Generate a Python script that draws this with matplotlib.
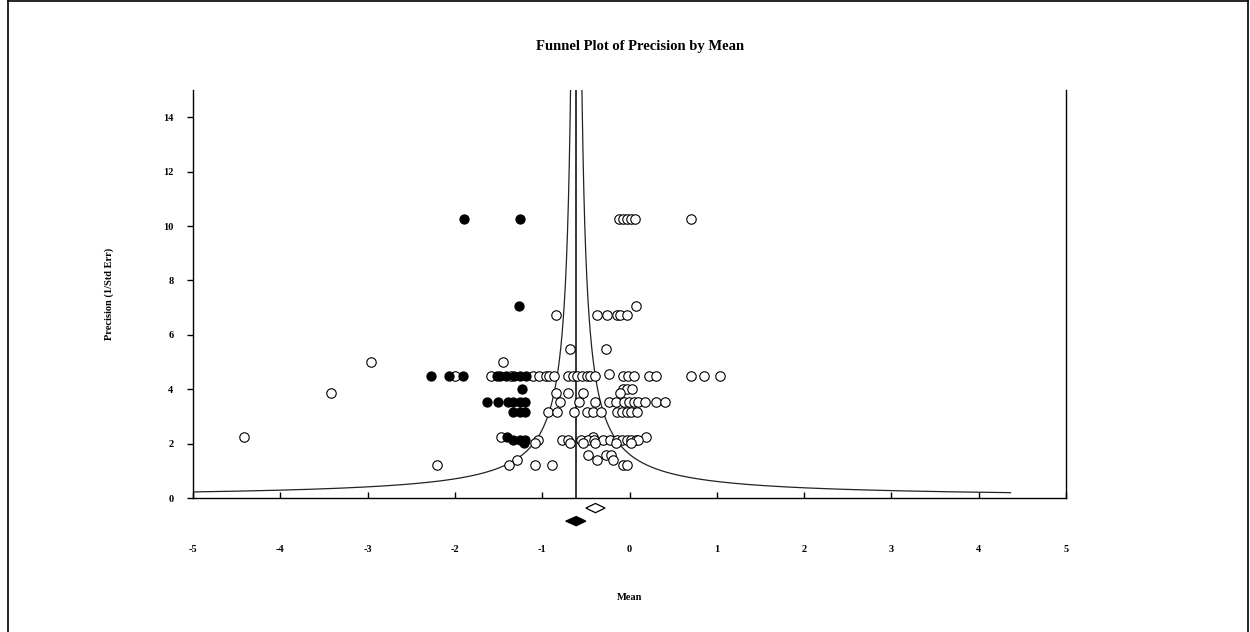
import numpy as np
import matplotlib
matplotlib.use('Agg')
import matplotlib.pyplot as plt
from matplotlib.patches import Polygon
from matplotlib.lines import Line2D

plt.rcParams['font.family'] = ['Liberation Serif', 'DejaVu Serif']
plt.rcParams['font.weight'] = 'bold'
plt.rcParams['axes.unicode_minus'] = False

#Data
#-----------------------------------------------------------
precision_levels = [10.25, 7.07, 6.72, 5.48, 5.0, 4.56, 4.47, 4.0, 3.87,
                    3.53, 3.17, 2.24, 2.13, 2.02, 1.58, 1.41, 1.22]

observed_means = [
    [-0.12, -0.08, -0.03, 0.02, 0.06, 0.70],
    [0.07],
    [-0.84, -0.37, -0.26, -0.14, -0.11, -0.03],
    [-0.68, -0.27],
    [-2.96, -1.45],
    [-0.24],
    [-2.00, -1.59, -1.36, -1.11, -1.04, -0.96, -0.92, -0.86, -0.70, -0.65, -0.60,
     -0.54, -0.49, -0.45, -0.40, -0.08, -0.02, 0.05, 0.22, 0.30, 0.70, 0.85, 1.04],
    [-0.08, -0.03, 0.03],
    [-3.42, -0.84, -0.70, -0.53, -0.11],
    [-0.80, -0.58, -0.39, -0.24, -0.16, -0.06, -0.01, 0.05, 0.10, 0.18, 0.30, 0.41],
    [-0.93, -0.83, -0.64, -0.49, -0.42, -0.33, -0.14, -0.09, -0.03, 0.02, 0.09],
    [-4.42, -1.47, -0.42, 0.19],
    [-1.05, -0.77, -0.70, -0.56, -0.48, -0.41, -0.30, -0.22, -0.14, -0.09, -0.03,
     0.02, 0.07, 0.10],
    [-1.08, -0.68, -0.53, -0.39, -0.16, 0.02],
    [-0.48, -0.27, -0.21],
    [-1.29, -0.37, -0.19],
    [-2.20, -1.38, -1.08, -0.89, -0.08, -0.03],
]

imputed_means = [
    [-1.90, -1.26],
    [-1.27],
    [],
    [],
    [],
    [],
    [-2.27, -2.07, -1.91, -1.52, -1.48, -1.42, -1.32, -1.26, -1.19],
    [-1.23],
    [],
    [-1.63, -1.51, -1.39, -1.33, -1.26, -1.20],
    [-1.33, -1.26, -1.20],
    [-1.40],
    [-1.33, -1.26, -1.20],
    [-1.21],
    [],
    [],
    [],
]

#summary estimates: (point, lower, upper, plotted row below axis)
observed_summary = (-0.39, -0.50, -0.28, -0.37)
adjusted_summary = (-0.61, -0.73, -0.50, -0.85)
funnel_k = 0.98
funnel_min_precision = 0.197

x_ticks = [-5, -4, -3, -2, -1, 0, 1, 2, 3, 4, 5]
y_ticks = [0, 2, 4, 6, 8, 10, 12, 14]
#-----------------------------------------------------------


def flatten(levels, means):
    xs, ys = [], []
    for p, row in zip(levels, means):
        for m in row:
            xs.append(m)
            ys.append(p)
    return xs, ys


#Make figure
#-----------------------------------------------------------
fig = plt.figure(figsize=(12.5, 6.32), dpi=100)
ax = fig.add_axes([0.1544, 0.212, 0.6984, 0.6456])
ax.set_xlim(-5, 5)
ax.set_ylim(0, 15)

ax.spines['top'].set_visible(False)
for side in ['left', 'right', 'bottom']:
    ax.spines[side].set_linewidth(1.0)
#-----------------------------------------------------------

#Funnel and mean line
#-----------------------------------------------------------
mean = adjusted_summary[0]
p = np.linspace(funnel_min_precision, 16, 4000)
ax.plot(mean - funnel_k / p, p, color='#222222', lw=0.9, zorder=2)
ax.plot(mean + funnel_k / p, p, color='#222222', lw=0.9, zorder=2)
ax.plot([mean, mean], [0, 15], color='black', lw=1.1, zorder=2)
#-----------------------------------------------------------

#Points
#-----------------------------------------------------------
ox, oy = flatten(precision_levels, observed_means)
ix, iy = flatten(precision_levels, imputed_means)
ax.plot(ox, oy, 'o', ms=6.8, mfc='white', mec='black', mew=0.8, ls='none', zorder=3)
ax.plot(ix, iy, 'o', ms=6.6, mfc='black', mec='black', mew=0.8, ls='none', zorder=4)
#-----------------------------------------------------------

#Summary diamonds below axis
#-----------------------------------------------------------
for (pt, lo, hi, row), fc in [(observed_summary, 'white'), (adjusted_summary, 'black')]:
    h = 0.17
    d = Polygon([[lo, row], [pt, row + h], [hi, row], [pt, row - h]], closed=True,
                facecolor=fc, edgecolor='black', lw=0.9, clip_on=False, zorder=5)
    ax.add_patch(d)
#-----------------------------------------------------------

#Axes text
#-----------------------------------------------------------
ax.set_xticks(x_ticks)
ax.set_yticks(y_ticks)
ax.set_xticklabels([str(t) for t in x_ticks], fontsize=7.5, fontweight='bold')
ax.set_yticklabels([str(t) for t in y_ticks], fontsize=7.5, fontweight='bold')
ax.tick_params(axis='x', direction='in', length=4, width=1, pad=34)
ax.tick_params(axis='y', direction='out', length=4, width=1, pad=10)
ax.set_xlabel('Mean', fontsize=7.5, fontweight='bold', labelpad=28)
ax.set_ylabel('Precision (1/Std Err)', fontsize=7.5, fontweight='bold', labelpad=35)

fig.text(0.512, 0.927, 'Funnel Plot of Precision by Mean', ha='center', va='center',
         fontsize=10.5, fontweight='bold')
#-----------------------------------------------------------

#Outer frame
#-----------------------------------------------------------
fig.add_artist(Line2D([0.0064, 0.9984], [0.998, 0.998], color='black', lw=1.2, transform=fig.transFigure))
fig.add_artist(Line2D([0.0064, 0.0064], [0.0, 0.998], color='black', lw=1.2, transform=fig.transFigure))
fig.add_artist(Line2D([0.9984, 0.9984], [0.0, 0.998], color='black', lw=1.2, transform=fig.transFigure))
#-----------------------------------------------------------

plt.savefig('out.png', dpi=100)
